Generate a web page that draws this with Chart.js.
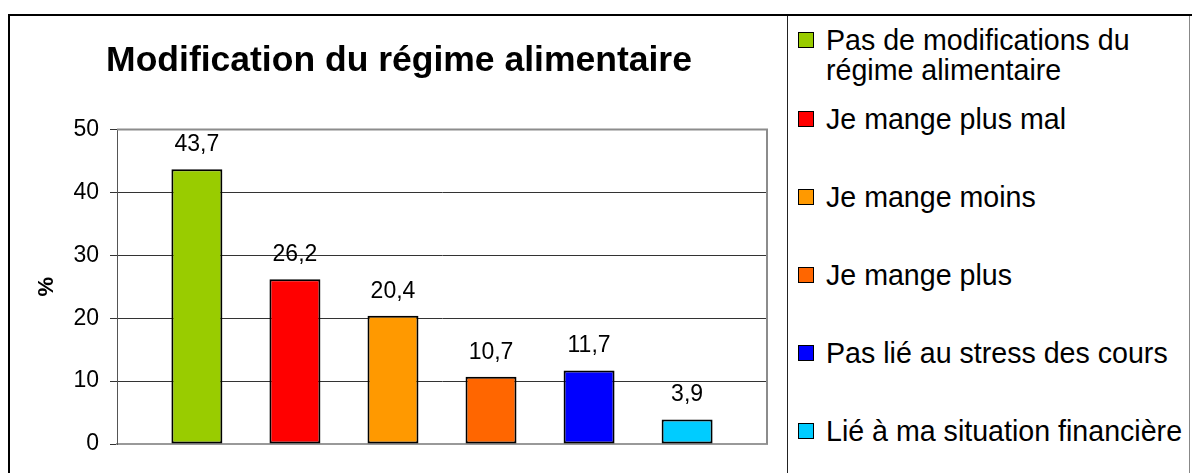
<!DOCTYPE html>
<html>
<head>
<meta charset="utf-8">
<script src="https://cdn.jsdelivr.net/npm/chart.js@4"></script>
<style>
  html, body { margin: 0; padding: 0; background: #fff; }
  body { width: 1192px; height: 473px; position: relative; overflow: hidden; font-family: "Liberation Sans", Arial, sans-serif; }
  #frame { position: absolute; left: 8px; top: 14px; width: 1200px; height: 500px; border-top: 2px solid #000; border-left: 2px solid #000; }
  #chart { position: absolute; left: 0; top: 0; }
  #legend { position: absolute; left: 787px; top: 16px; width: 401px; height: 470px; border-left: 1px solid #222; border-right: 1px solid #888; }
  .item { position: absolute; left: 0; width: 400px; }
  .box { position: absolute; left: 10px; width: 14px; height: 14px; border: 1px solid #000; }
  .txt { position: absolute; left: 38px; width: 360px; font-size: 28.6px; line-height: 30px; color: #000; white-space: normal; }
</style>
</head>
<body>
<div id="frame"></div>
<canvas id="chart" width="787" height="473"></canvas>
<div id="legend"></div>
<script>
// données du graphique
const seriesLabels = [
  'Pas de modifications du régime alimentaire',
  'Je mange plus mal',
  'Je mange moins',
  'Je mange plus',
  'Pas lié au stress des cours',
  'Lié à ma situation financière'
];
const values = [43.7, 26.2, 20.4, 10.7, 11.7, 3.9];
const colors = ['#99CC00', '#FF0000', '#FF9900', '#FF6600', '#0000FF', '#00CCFF'];
const categories = [''];

const font = 'Liberation Sans';

// valeurs au-dessus des barres
const valueLabels = {
  id: 'valueLabels',
  afterDatasetsDraw(chart) {
    const ctx = chart.ctx;
    ctx.save();
    ctx.font = '23px "' + font + '"';
    ctx.fillStyle = '#000';
    ctx.textAlign = 'center';
    ctx.textBaseline = 'alphabetic';
    chart.data.datasets.forEach((ds, i) => {
      const bar = chart.getDatasetMeta(i).data[0];
      ctx.fillText(String(ds.data[0]).replace('.', ','), bar.x, bar.y - 18);
    });
    ctx.restore();
  }
};

// cadre gris de la zone de tracé
const plotFrame = {
  id: 'plotFrame',
  beforeDatasetsDraw(chart) {
    const a = chart.chartArea;
    const ctx = chart.ctx;
    ctx.save();
    ctx.strokeStyle = '#8c8c8c';
    ctx.lineWidth = 2;
    ctx.beginPath();
    ctx.moveTo(a.left, a.top);
    ctx.lineTo(a.right, a.top);
    ctx.lineTo(a.right, a.bottom);
    ctx.stroke();
    ctx.restore();
  }
};

new Chart(document.getElementById('chart'), {
  type: 'bar',
  data: {
    labels: categories,
    datasets: seriesLabels.map((label, i) => ({
      label: label,
      data: [values[i]],
      backgroundColor: colors[i],
      borderColor: '#000',
      borderWidth: 2,
      borderSkipped: false,
      categoryPercentage: 0.905,
      barPercentage: 0.52
    }))
  },
  options: {
    responsive: false,
    animation: false,
    devicePixelRatio: 1,
    layout: { padding: { right: 20, left: 31, bottom: 0 } },
    plugins: {
      legend: { display: false },
      tooltip: { enabled: false },
      title: {
        display: true,
        text: 'Modification du régime alimentaire',
        color: '#000',
        font: { family: font, size: 35.5, weight: 'bold' },
        padding: { top: 40, bottom: 47 }
      }
    },
    scales: {
      x: {
        ticks: { display: false },
        grid: { display: false },
        border: { display: true, color: '#999', width: 2 },
        afterFit(scale) { scale.height = 29; }
      },
      y: {
        min: 0,
        max: 50,
        ticks: {
          stepSize: 10,
          color: '#000',
          padding: 11,
          font: { family: font, size: 23 }
        },
        grid: {
          color: (c) => (c.tick && (c.tick.value === 50 || c.tick.value === 0)) ? 'rgba(0,0,0,0)' : '#333',
          tickColor: '#333',
          tickLength: 7,
          lineWidth: 1
        },
        border: { display: true, color: '#555', width: 1 },
        title: {
          display: true,
          text: '%',
          color: '#000',
          font: { family: font, size: 22, weight: 'bold' },
          padding: { top: 3, bottom: 0 }
        },
        afterFit(scale) { scale.width = 86; }
      }
    }
  },
  plugins: [plotFrame, valueLabels]
});

// légende HTML à droite
const legend = document.getElementById('legend');
seriesLabels.forEach((label, i) => {
  const center = i === 0 ? 24 : 103 + (i - 1) * 78;
  const item = document.createElement('div');
  item.className = 'item';
  item.style.top = (center - 15) + 'px';
  const box = document.createElement('div');
  box.className = 'box';
  box.style.top = '7px';
  box.style.background = colors[i];
  const txt = document.createElement('div');
  txt.className = 'txt';
  txt.style.top = '0px';
  txt.textContent = label;
  item.appendChild(box);
  item.appendChild(txt);
  legend.appendChild(item);
});
</script>
</body>
</html>
